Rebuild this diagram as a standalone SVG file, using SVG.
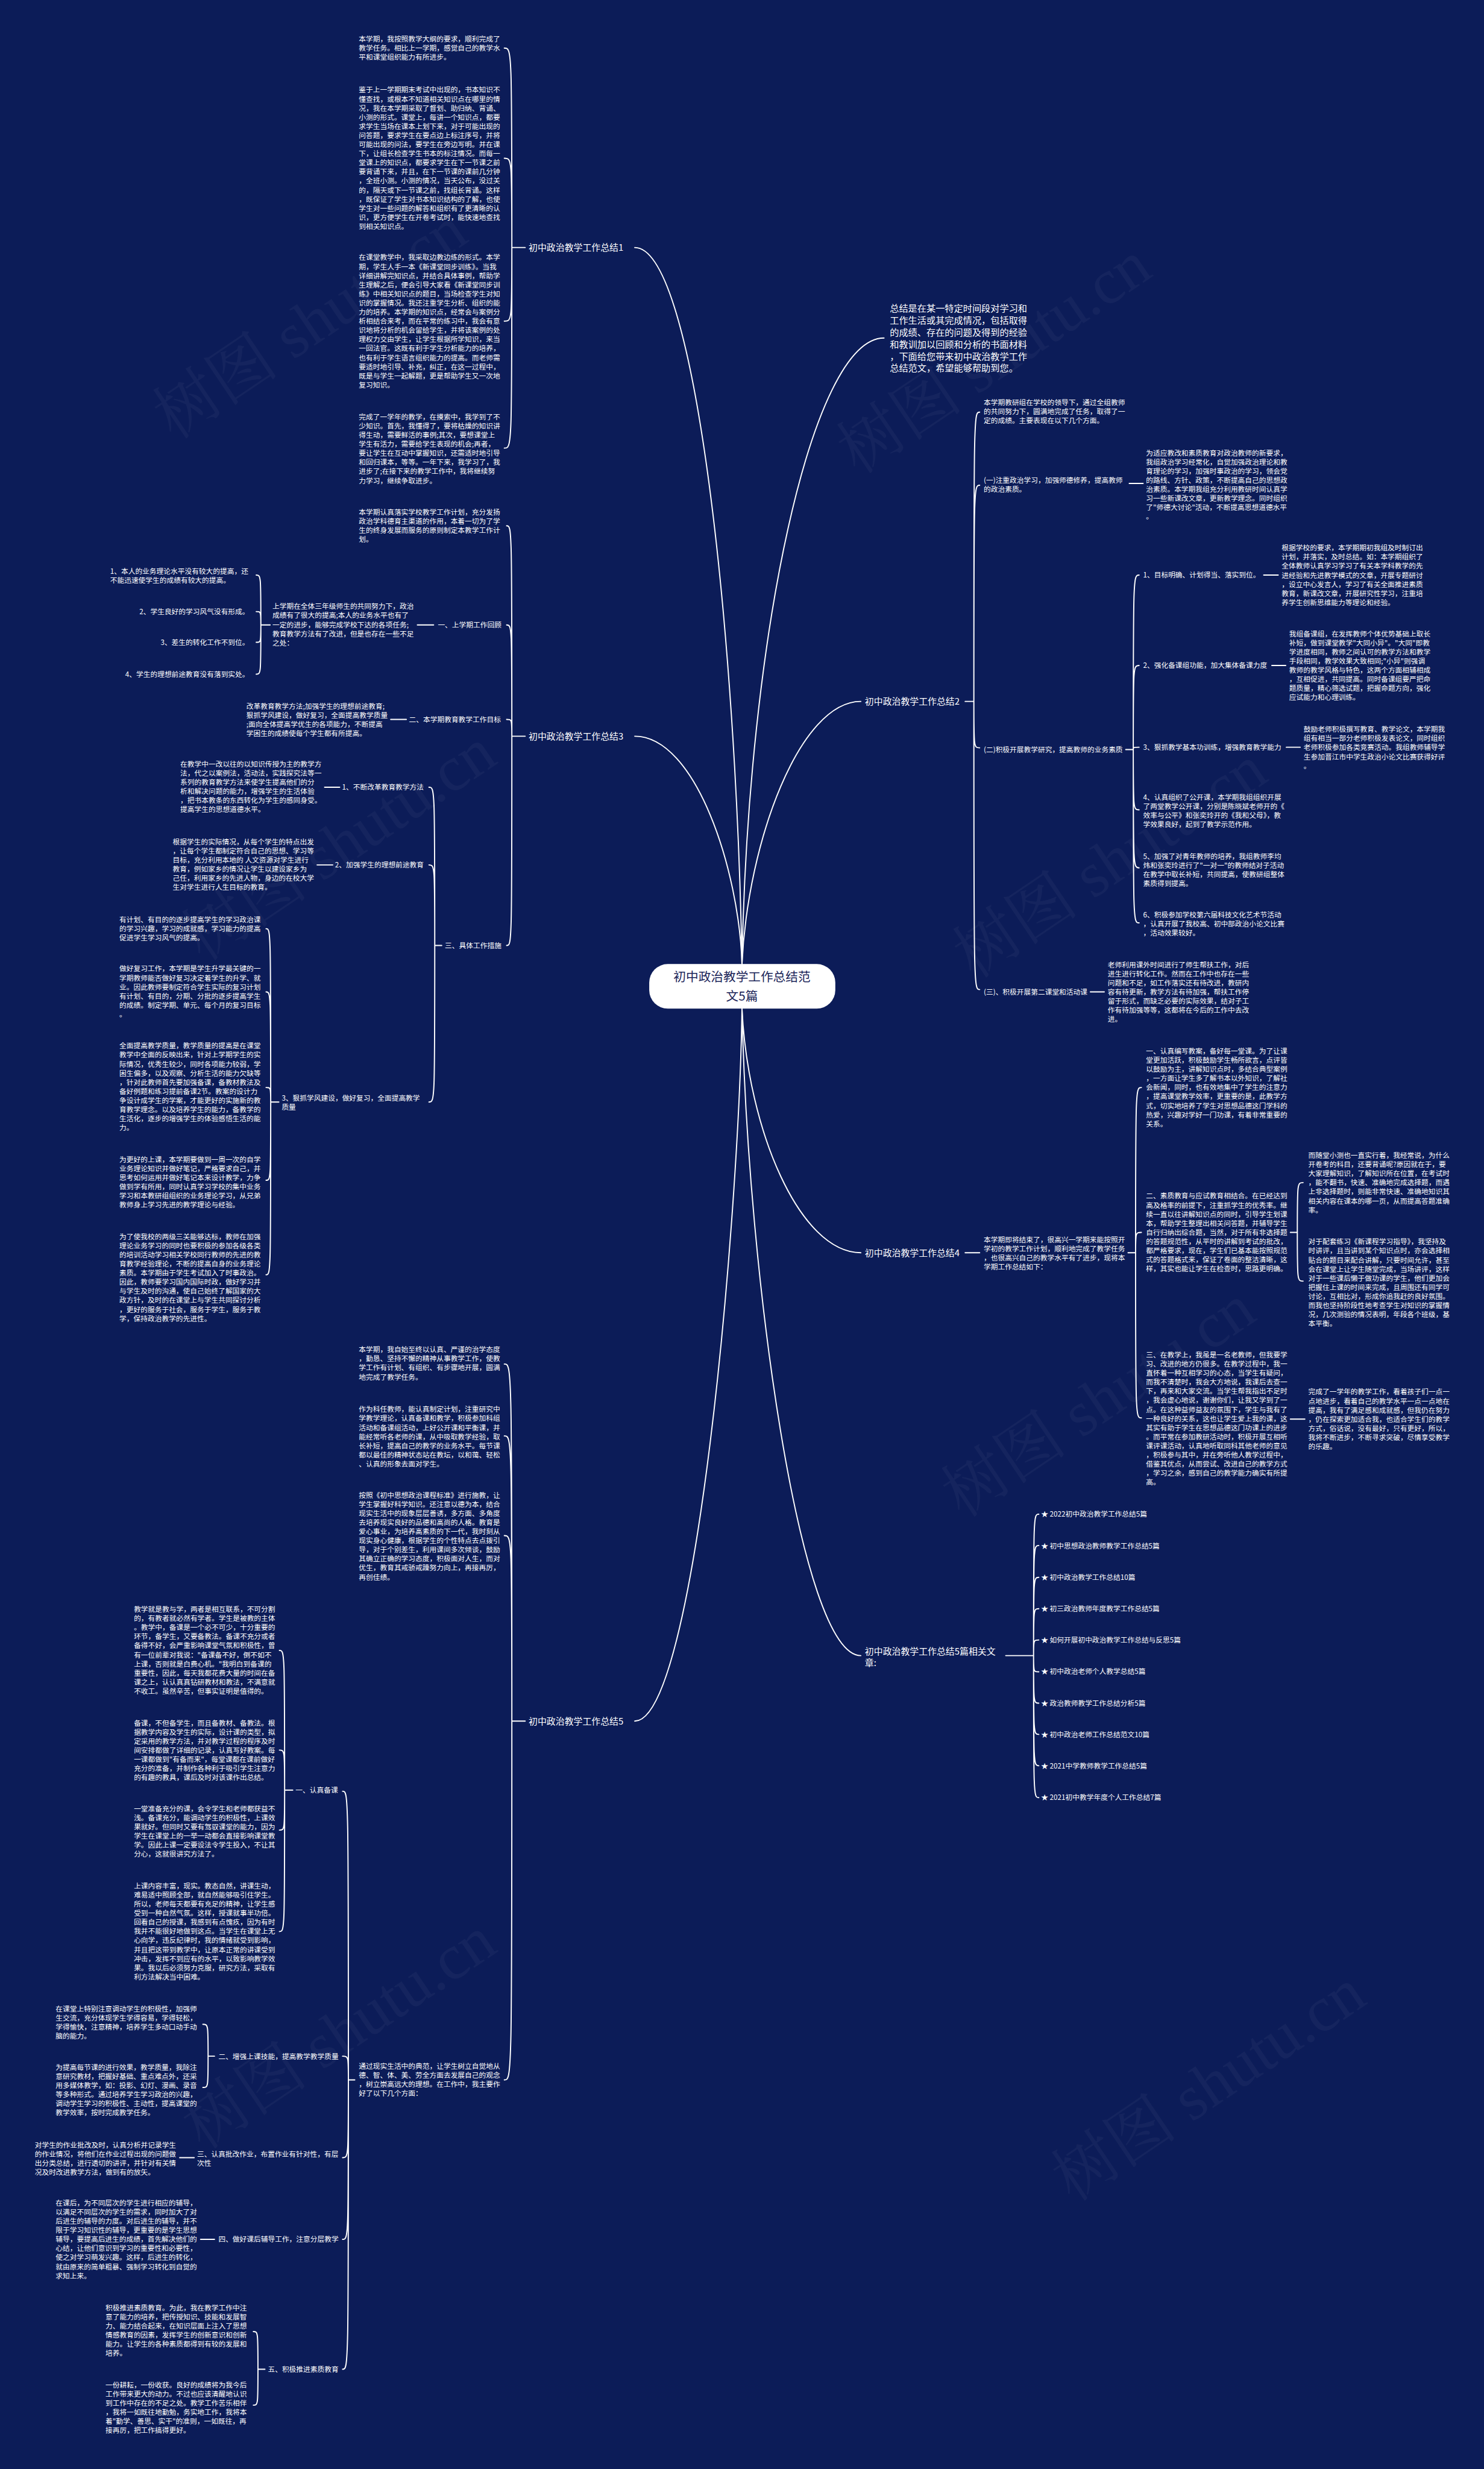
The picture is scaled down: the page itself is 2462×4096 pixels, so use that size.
<svg xmlns="http://www.w3.org/2000/svg" width="2462" height="4096" viewBox="0 0 2462 4096">
<style>
.t{font-family:"Noto Sans CJK SC","Noto Sans",sans-serif;font-size:12.2px;fill:#ffffff}
.h{font-size:15.5px}
.in{font-size:15.8px}
.e{text-anchor:end}
.ln{fill:none;stroke:#ffffff;stroke-width:2;stroke-linecap:round}
.ctr{font-family:"Noto Sans CJK SC","Noto Sans",sans-serif;font-size:21.5px;fill:#1b2559;text-anchor:middle}
.wm{font-family:"Liberation Serif","Noto Serif CJK SC","Noto Sans CJK SC",serif;font-size:110px;fill:#ffffff;fill-opacity:0.04}
</style>
<rect x="0" y="0" width="2462" height="4096" fill="#0c1c58"/>
<g transform="scale(0.9617)">
<g id="watermark">
<text class="wm" transform="translate(300,760) rotate(-34)">树图 shutu.cn</text>
<text class="wm" transform="translate(350,1660) rotate(-34)">树图 shutu.cn</text>
<text class="wm" transform="translate(350,3710) rotate(-34)">树图 shutu.cn</text>
<text class="wm" transform="translate(1480,820) rotate(-34)">树图 shutu.cn</text>
<text class="wm" transform="translate(1680,1690) rotate(-34)">树图 shutu.cn</text>
<text class="wm" transform="translate(1660,2620) rotate(-34)">树图 shutu.cn</text>
<text class="wm" transform="translate(1850,3800) rotate(-34)">树图 shutu.cn</text>
</g>
<g id="connectors" class="ln">
<path d="M1095,427 C1200,427 1270,1100 1280,1663"/>
<path d="M1095,1270 C1200,1270 1275,1500 1280,1663"/>
<path d="M1095,2969 C1200,2969 1275,2100 1280,1740"/>
<path d="M1525,583 C1400,583 1290,1100 1280,1663"/>
<path d="M1485,1210 C1380,1210 1290,1450 1280,1663"/>
<path d="M1485,2161 C1380,2161 1290,1950 1280,1740"/>
<path d="M1485,2856 C1380,2856 1290,2200 1280,1740"/>
<path d="M906,427 H883 M883,427 C883,83 883,83 870,83 M883,427 C883,273 883,273 870,273 M883,427 C883,554 883,554 870,554 M883,427 C883,773 883,773 870,773"/>
<path d="M906,1270 H883 M883,1270 C883,907 883,907 874,907 M883,1270 C883,1078 883,1078 874,1078 M883,1270 C883,1241 883,1241 874,1241 M883,1270 C883,1631 883,1631 874,1631"/>
<path d="M748,1078 H720"/>
<path d="M466,1078 H450 M450,1078 C450,992 450,992 442,992 M450,1078 C450,1055 450,1055 442,1055 M450,1078 C450,1108 450,1108 442,1108 M450,1078 C450,1163 450,1163 442,1163"/>
<path d="M701,1241 H674"/>
<path d="M762,1631 H750 M750,1631 C750,1358 750,1358 740,1358 M750,1631 C750,1492 750,1492 740,1492 M750,1631 C750,1901 750,1901 740,1901"/>
<path d="M586,1358 H560"/>
<path d="M574,1492 H547"/>
<path d="M481,1901 H467 M467,1901 C467,1602 467,1602 459,1602 M467,1901 C467,1711 467,1711 459,1711 M467,1901 C467,1876 467,1876 459,1876 M467,1901 C467,2036 467,2036 459,2036 M467,1901 C467,2199 467,2199 459,2199"/>
<path d="M906,2969 H883 M883,2969 C883,2353 883,2353 870,2353 M883,2969 C883,2477 883,2477 870,2477 M883,2969 C883,2649 883,2649 870,2649 M883,2969 C883,3588 883,3588 870,3588"/>
<path d="M612,3588 H601 M601,3588 C601,3090 601,3090 591,3090 M601,3588 C601,3547 601,3547 591,3547 M601,3588 C601,3722 601,3722 591,3722 M601,3588 C601,3863 601,3863 591,3863 M601,3588 C601,4087 601,4087 591,4087"/>
<path d="M505,3088 H491 M491,3088 C491,2847 491,2847 482,2847 M491,3088 C491,3019 491,3019 482,3019 M491,3088 C491,3157 491,3157 482,3157 M491,3088 C491,3332 491,3332 482,3332"/>
<path d="M370,3547 H359 M359,3547 C359,3492 359,3492 350,3492 M359,3547 C359,3601 359,3601 350,3601"/>
<path d="M335,3722 H310"/>
<path d="M370,3863 H346"/>
<path d="M457,4087 H445 M445,4087 C445,4022 445,4022 437,4022 M445,4087 C445,4149 445,4149 437,4149"/>
<path d="M1665,1210 H1680 M1680,1210 C1680,711 1680,711 1690,711 M1680,1210 C1680,837 1680,837 1690,837 M1680,1210 C1680,1290 1680,1290 1690,1290 M1680,1210 C1680,1707 1680,1707 1690,1707"/>
<path d="M1948,834 H1972"/>
<path d="M1942,1293 H1955 M1955,1293 C1955,992 1955,992 1965,992 M1955,1293 C1955,1148 1955,1148 1965,1148 M1955,1293 C1955,1289 1955,1289 1965,1289 M1955,1293 C1955,1397 1955,1397 1965,1397 M1955,1293 C1955,1497 1955,1497 1965,1497 M1955,1293 C1955,1592 1955,1592 1965,1592"/>
<path d="M2180,992 H2205 M2194,1148 H2218 M2219,1289 H2243"/>
<path d="M1881,1711 H1905"/>
<path d="M1665,2161 H1690"/>
<path d="M1946,2161 H1959 M1959,2161 C1959,1876 1959,1876 1969,1876 M1959,2161 C1959,2126 1959,2126 1969,2126 M1959,2161 C1959,2446 1959,2446 1969,2446"/>
<path d="M2226,2126 H2238 M2238,2126 C2238,2040 2238,2040 2248,2040 M2238,2126 C2238,2210 2238,2210 2248,2210"/>
<path d="M2226,2448 H2251"/>
<path d="M1735,2856 H1783 M1783,2856 C1783,2612 1783,2612 1792,2612 M1783,2856 C1783,2666 1783,2666 1792,2666 M1783,2856 C1783,2721 1783,2721 1792,2721 M1783,2856 C1783,2775 1783,2775 1792,2775 M1783,2856 C1783,2829 1783,2829 1792,2829 M1783,2856 C1783,2884 1783,2884 1792,2884 M1783,2856 C1783,2938 1783,2938 1792,2938 M1783,2856 C1783,2992 1783,2992 1792,2992 M1783,2856 C1783,3046 1783,3046 1792,3046 M1783,2856 C1783,3101 1783,3101 1792,3101"/>
</g>

<g id="center">
<rect x="1120" y="1663" width="321" height="77" rx="32" fill="#ffffff"/>
<text class="ctr" x="1280" y="1693">初中政治教学工作总结范</text>
<text class="ctr" x="1280" y="1726">文5篇</text>
</g>

<g id="intro"><text class="t in" x="1535" y="538"><tspan x="1535">总结是在某一特定时间段对学习和</tspan><tspan x="1535" dy="20.6">工作生活或其完成情况，包括取得</tspan><tspan x="1535" dy="20.6">的成绩、存在的问题及得到的经验</tspan><tspan x="1535" dy="20.6">和教训加以回顾和分析的书面材料</tspan><tspan x="1535" dy="20.6">，下面给您带来初中政治教学工作</tspan><tspan x="1535" dy="20.6">总结范文，希望能够帮助到您。</tspan></text></g>

<g id="s1"><text class="t h" x="912" y="432.9">初中政治教学工作总结1</text></g>
<g id="s1a"><text class="t" x="619" y="71.6"><tspan x="619">本学期，我按照教学大纲的要求，顺利完成了</tspan><tspan x="619" dy="15.7">教学任务。相比上一学期，感觉自己的教学水</tspan><tspan x="619" dy="15.7">平和课堂组织能力有所进步。</tspan></text></g>
<g id="s1b"><text class="t" x="619" y="159.6"><tspan x="619">鉴于上一学期期末考试中出现的，书本知识不</tspan><tspan x="619" dy="15.7">懂查找，或根本不知道相关知识点在哪里的情</tspan><tspan x="619" dy="15.7">况，我在本学期采取了督划、助归纳、背诵、</tspan><tspan x="619" dy="15.7">小测的形式。课堂上，每讲一个知识点，都要</tspan><tspan x="619" dy="15.7">求学生当场在课本上划下来，对于可能出现的</tspan><tspan x="619" dy="15.7">问答题，要求学生在要点边上标注序号，并将</tspan><tspan x="619" dy="15.7">可能出现的问法，要学生在旁边写明。并在课</tspan><tspan x="619" dy="15.7">下，让组长检查学生书本的标注情况。而每一</tspan><tspan x="619" dy="15.7">堂课上的知识点，都要求学生在下一节课之前</tspan><tspan x="619" dy="15.7">要背诵下来，并且，在下一节课的课前几分钟</tspan><tspan x="619" dy="15.7">，全班小测。小测的情况，当天公布，没过关</tspan><tspan x="619" dy="15.7">的，隔天或下一节课之前，找组长背诵。这样</tspan><tspan x="619" dy="15.7">，既保证了学生对书本知识结构的了解，也使</tspan><tspan x="619" dy="15.7">学生对一些问题的解答和组织有了更清晰的认</tspan><tspan x="619" dy="15.7">识，更方便学生在开卷考试时，能快速地查找</tspan><tspan x="619" dy="15.7">到相关知识点。</tspan></text></g>
<g id="s1c"><text class="t" x="619" y="448.6"><tspan x="619">在课堂教学中，我采取边教边练的形式。本学</tspan><tspan x="619" dy="15.7">期，学生人手一本《新课堂同步训练》。当我</tspan><tspan x="619" dy="15.7">详细讲解完知识点，并结合具体事例，帮助学</tspan><tspan x="619" dy="15.7">生理解之后，便会引导大家看《新课堂同步训</tspan><tspan x="619" dy="15.7">练》中相关知识点的题目，当场检查学生对知</tspan><tspan x="619" dy="15.7">识的掌握情况。我还注重学生分析、组织的能</tspan><tspan x="619" dy="15.7">力的培养。本学期的知识点，经常会与案例分</tspan><tspan x="619" dy="15.7">析相结合来考，而在平常的练习中，我会有意</tspan><tspan x="619" dy="15.7">识地将分析的机会留给学生，并将该案例的处</tspan><tspan x="619" dy="15.7">理权力交由学生，让学生根据所学知识，来当</tspan><tspan x="619" dy="15.7">一回法官。这既有利于学生分析能力的培养，</tspan><tspan x="619" dy="15.7">也有利于学生语言组织能力的提高。而老师需</tspan><tspan x="619" dy="15.7">要适时地引导、补充，纠正，在这一过程中，</tspan><tspan x="619" dy="15.7">既是与学生一起解题，更是帮助学生又一次地</tspan><tspan x="619" dy="15.7">复习知识。</tspan></text></g>
<g id="s1d"><text class="t" x="619" y="723.6"><tspan x="619">完成了一学年的教学，在摸索中，我学到了不</tspan><tspan x="619" dy="15.7">少知识。首先，我懂得了，要将枯燥的知识讲</tspan><tspan x="619" dy="15.7">得生动，需要鲜活的事例;其次，要想课堂上</tspan><tspan x="619" dy="15.7">学生有活力，需要给学生表现的机会;再者，</tspan><tspan x="619" dy="15.7">要让学生在互动中掌握知识，还需适时地引导</tspan><tspan x="619" dy="15.7">和回归课本，等等。一年下来，我学习了，我</tspan><tspan x="619" dy="15.7">进步了;在接下来的教学工作中，我将继续努</tspan><tspan x="619" dy="15.7">力学习，继续争取进步。</tspan></text></g>

<g id="s3"><text class="t h" x="912" y="1275.9">初中政治教学工作总结3</text></g>
<g id="s3e"><text class="t" x="619" y="887.6"><tspan x="619">本学期认真落实学校教学工作计划，充分发扬</tspan><tspan x="619" dy="15.7">政治学科德育主渠道的作用，本着一切为了学</tspan><tspan x="619" dy="15.7">生的终身发展而服务的原则制定本教学工作计</tspan><tspan x="619" dy="15.7">划。</tspan></text></g>
<g id="s3-1"><text class="t e" x="865" y="1082.6">一、上学期工作回顾</text></g>
<g id="s3f"><text class="t" x="470" y="1050.6"><tspan x="470">上学期在全体三年级师生的共同努力下，政治</tspan><tspan x="470" dy="15.7">成绩有了很大的提高;本人的业务水平也有了</tspan><tspan x="470" dy="15.7">一定的进步，能够完成学校下达的各项任务;</tspan><tspan x="470" dy="15.7">教育教学方法有了改进，但是也存在一些不足</tspan><tspan x="470" dy="15.7">之处：</tspan></text></g>
<g id="s3g1"><text class="t" x="190" y="989.6"><tspan x="190">1、本人的业务理论水平没有较大的提高，还</tspan><tspan x="190" dy="15.7">不能迅速使学生的成绩有较大的提高。</tspan></text></g>
<g id="s3g2"><text class="t e" x="430" y="1059.6">2、学生良好的学习风气没有形成。</text></g>
<g id="s3g3"><text class="t e" x="430" y="1112.6">3、差生的转化工作不到位。</text></g>
<g id="s3g4"><text class="t e" x="430" y="1167.6">4、学生的理想前途教育没有落到实处。</text></g>
<g id="s3-2"><text class="t e" x="864" y="1245.6">二、本学期教育教学工作目标</text></g>
<g id="s3h"><text class="t" x="425" y="1222.6"><tspan x="425">改革教育教学方法;加强学生的理想前途教育;</tspan><tspan x="425" dy="15.7">狠抓学风建设，做好复习，全面提高教学质量</tspan><tspan x="425" dy="15.7">;面向全体提高学优生的各项能力，不断提高</tspan><tspan x="425" dy="15.7">学困生的成绩使每个学生都有所提高。</tspan></text></g>
<g id="s3-3"><text class="t e" x="865" y="1635.6">三、具体工作措施</text></g>
<g id="s3-3-1"><text class="t e" x="731" y="1362.6">1、不断改革教育教学方法</text></g>
<g id="s3i"><text class="t" x="311" y="1322.6"><tspan x="311">在教学中一改以往的以知识传授为主的教学方</tspan><tspan x="311" dy="15.7">法，代之以案例法，活动法，实践探究法等一</tspan><tspan x="311" dy="15.7">系列的教育教学方法来使学生提高他们的分</tspan><tspan x="311" dy="15.7">析和解决问题的能力，增强学生的生活体验</tspan><tspan x="311" dy="15.7">，把书本教条的东西转化为学生的感同身受。</tspan><tspan x="311" dy="15.7">提高学生的思想道德水平。</tspan></text></g>
<g id="s3-3-2"><text class="t e" x="731" y="1496.6">2、加强学生的理想前途教育</text></g>
<g id="s3j"><text class="t" x="298" y="1456.6"><tspan x="298">根据学生的实际情况，从每个学生的特点出发</tspan><tspan x="298" dy="15.7">，让每个学生都制定符合自己的思想、学习等</tspan><tspan x="298" dy="15.7">目标，充分利用本地的 人文资源对学生进行</tspan><tspan x="298" dy="15.7">教育，例如家乡的情况让学生以建设家乡为</tspan><tspan x="298" dy="15.7">己任，利用家乡的先进人物，身边的在校大学</tspan><tspan x="298" dy="15.7">生对学生进行人生目标的教育。</tspan></text></g>
<g id="s3-3-3"><text class="t" x="486" y="1898.6"><tspan x="486">3、狠抓学风建设，做好复习，全面提高教学</tspan><tspan x="486" dy="15.7">质量</tspan></text></g>
<g id="s3k"><text class="t" x="206" y="1590.6"><tspan x="206">有计划、有目的的逐步提高学生的学习政治课</tspan><tspan x="206" dy="15.7">的学习兴趣，学习的成就感，学习能力的提高</tspan><tspan x="206" dy="15.7">促进学生学习风气的提高。</tspan></text></g>
<g id="s3l"><text class="t" x="206" y="1675.6"><tspan x="206">做好复习工作，本学期是学生升学最关键的一</tspan><tspan x="206" dy="15.7">学期教师能否做好复习决定着学生的升学、就</tspan><tspan x="206" dy="15.7">业。因此教师要制定符合学生实际的复习计划</tspan><tspan x="206" dy="15.7">有计划、有目的，分期、分批的逐步提高学生</tspan><tspan x="206" dy="15.7">的成绩。制定学期、单元、每个月的复习目标</tspan><tspan x="206" dy="15.7">。</tspan></text></g>
<g id="s3m"><text class="t" x="206" y="1808.6"><tspan x="206">全面提高教学质量，教学质量的提高是在课堂</tspan><tspan x="206" dy="15.7">教学中全面的反映出来，针对上学期学生的实</tspan><tspan x="206" dy="15.7">际情况，优秀生较少，同时各项能力较弱，学</tspan><tspan x="206" dy="15.7">困生偏多，以及观察、分析生活的能力欠缺等</tspan><tspan x="206" dy="15.7">，针对此教师首先要加强备课，备教材教法及</tspan><tspan x="206" dy="15.7">备好例题和练习提前备课2节。教案的设计力</tspan><tspan x="206" dy="15.7">争设计成学生的学案，才能更好的实施新的教</tspan><tspan x="206" dy="15.7">育教学理念。以及培养学生的能力，备教学的</tspan><tspan x="206" dy="15.7">生活化，逐步的增强学生的体验感悟生活的能</tspan><tspan x="206" dy="15.7">力。</tspan></text></g>
<g id="s3n"><text class="t" x="206" y="2004.6"><tspan x="206">为更好的上课，本学期要做到一周一次的自学</tspan><tspan x="206" dy="15.7">业务理论知识并做好笔记，严格要求自己，并</tspan><tspan x="206" dy="15.7">思考如何运用并做好笔记本来设计教学，力争</tspan><tspan x="206" dy="15.7">做到学有所用，同时认真学习学校的集中业务</tspan><tspan x="206" dy="15.7">学习和本教研组组织的业务理论学习，从兄弟</tspan><tspan x="206" dy="15.7">教师身上学习先进的教学理论与经验。</tspan></text></g>
<g id="s3o"><text class="t" x="206" y="2137.6"><tspan x="206">为了使我校的两级三关能够达标，教师在加强</tspan><tspan x="206" dy="15.7">理论业务学习的同时也要积极的参加各级各类</tspan><tspan x="206" dy="15.7">的培训活动学习相关学校同行教师的先进的教</tspan><tspan x="206" dy="15.7">育教学经验理论，不断的提高自身的业务理论</tspan><tspan x="206" dy="15.7">素质。本学期由于学生考试加入了时事政治。</tspan><tspan x="206" dy="15.7">因此，教师要学习国内国际时政，做好学习并</tspan><tspan x="206" dy="15.7">与学生及时的沟通，使自己始终了解国家的大</tspan><tspan x="206" dy="15.7">政方针，及时的在课堂上与学生共同探讨分析</tspan><tspan x="206" dy="15.7">，更好的服务于社会，服务于学生，服务于教</tspan><tspan x="206" dy="15.7">学，保持政治教学的先进性。</tspan></text></g>

<g id="s5"><text class="t h" x="912" y="2974.9">初中政治教学工作总结5</text></g>
<g id="s5p"><text class="t" x="619" y="2332.6"><tspan x="619">本学期，我自始至终以认真、严谨的治学态度</tspan><tspan x="619" dy="15.7">，勤恳、坚持不懈的精神从事教学工作，使教</tspan><tspan x="619" dy="15.7">学工作有计划、有组织、有步骤地开展，圆满</tspan><tspan x="619" dy="15.7">地完成了教学任务。</tspan></text></g>
<g id="s5q"><text class="t" x="619" y="2435.6"><tspan x="619">作为科任教师，能认真制定计划，注重研究中</tspan><tspan x="619" dy="15.7">学教学理论，认真备课和教学，积极参加科组</tspan><tspan x="619" dy="15.7">活动和备课组活动，上好公开课和平衡课，并</tspan><tspan x="619" dy="15.7">能经常听各老师的课，从中吸取教学经验，取</tspan><tspan x="619" dy="15.7">长补短，提高自己的教学的业务水平。每节课</tspan><tspan x="619" dy="15.7">都以最佳的精神状态站在教坛，以和蔼、轻松</tspan><tspan x="619" dy="15.7">、认真的形象去面对学生。</tspan></text></g>
<g id="s5r"><text class="t" x="619" y="2583.6"><tspan x="619">按照《初中思想政治课程标准》进行施教，让</tspan><tspan x="619" dy="15.7">学生掌握好科学知识。还注意以德为本，结合</tspan><tspan x="619" dy="15.7">现实生活中的现象层层善诱，多方面、多角度</tspan><tspan x="619" dy="15.7">去培养现实良好的品德和高尚的人格。教育是</tspan><tspan x="619" dy="15.7">爱心事业，为培养高素质的下一代，我时刻从</tspan><tspan x="619" dy="15.7">现实身心健康，根据学生的个性特点去点拨引</tspan><tspan x="619" dy="15.7">导，对于个别差生，利用课间多次倾谈，鼓励</tspan><tspan x="619" dy="15.7">其确立正确的学习态度，积极面对人生，而对</tspan><tspan x="619" dy="15.7">优生，教育其戒骄戒躁努力向上，再接再厉，</tspan><tspan x="619" dy="15.7">再创佳绩。</tspan></text></g>
<g id="s5t"><text class="t" x="619" y="3568.6"><tspan x="619">通过现实生活中的典范，让学生树立自觉地从</tspan><tspan x="619" dy="15.7">德、智、体、美、劳全方面去发展自己的观念</tspan><tspan x="619" dy="15.7">，树立崇高远大的理想。在工作中，我主要作</tspan><tspan x="619" dy="15.7">好了以下几个方面：</tspan></text></g>
<g id="s5-1"><text class="t e" x="583" y="3092.6">一、认真备课</text></g>
<g id="s5s"><text class="t" x="231" y="2780.6"><tspan x="231">教学就是教与学，两者是相互联系，不可分割</tspan><tspan x="231" dy="15.7">的，有教者就必然有学者。学生是被教的主体</tspan><tspan x="231" dy="15.7">。教学中，备课是一个必不可少，十分重要的</tspan><tspan x="231" dy="15.7">环节，备学生，又要备教法。备课不充分或者</tspan><tspan x="231" dy="15.7">备得不好，会严重影响课堂气氛和积极性，曾</tspan><tspan x="231" dy="15.7">有一位前辈对我说："备课备不好，倒不如不</tspan><tspan x="231" dy="15.7">上课，否则就是白费心机。"我明白到备课的</tspan><tspan x="231" dy="15.7">重要性，因此，每天我都花费大量的时间在备</tspan><tspan x="231" dy="15.7">课之上，认认真真钻研教材和教法，不满意就</tspan><tspan x="231" dy="15.7">不收工。虽然辛苦，但事实证明是值得的。</tspan></text></g>
<g id="s5u1"><text class="t" x="231" y="2976.6"><tspan x="231">备课，不但备学生，而且备教材、备教法。根</tspan><tspan x="231" dy="15.7">据教学内容及学生的实际，设计课的类型，拟</tspan><tspan x="231" dy="15.7">定采用的教学方法，并对教学过程的程序及时</tspan><tspan x="231" dy="15.7">间安排都做了详细的记录，认真写好教案。每</tspan><tspan x="231" dy="15.7">一课都做到"有备而来"，每堂课都在课前做好</tspan><tspan x="231" dy="15.7">充分的准备，并制作各种利于吸引学生注意力</tspan><tspan x="231" dy="15.7">的有趣的教具，课后及时对该课作出总结。</tspan></text></g>
<g id="s5u"><text class="t" x="231" y="3124.6"><tspan x="231">一堂准备充分的课，会令学生和老师都获益不</tspan><tspan x="231" dy="15.7">浅。备课充分，能调动学生的积极性，上课效</tspan><tspan x="231" dy="15.7">果就好。但同时又要有驾驭课堂的能力，因为</tspan><tspan x="231" dy="15.7">学生在课堂上的一举一动都会直接影响课堂教</tspan><tspan x="231" dy="15.7">学。因此上课一定要设法令学生投入，不让其</tspan><tspan x="231" dy="15.7">分心，这就很讲究方法了。</tspan></text></g>
<g id="s5v"><text class="t" x="231" y="3257.6"><tspan x="231">上课内容丰富，现实。教态自然，讲课生动，</tspan><tspan x="231" dy="15.7">难易适中照顾全部，就自然能够吸引住学生。</tspan><tspan x="231" dy="15.7">所以，老师每天都要有充足的精神，让学生感</tspan><tspan x="231" dy="15.7">受到一种自然气氛。这样，授课就事半功倍。</tspan><tspan x="231" dy="15.7">回看自己的授课，我感到有点愧疚，因为有时</tspan><tspan x="231" dy="15.7">我并不能很好地做到这点。当学生在课堂上无</tspan><tspan x="231" dy="15.7">心向学，违反纪律时，我的情绪就受到影响，</tspan><tspan x="231" dy="15.7">并且把这带到教学中，让原本正常的讲课受到</tspan><tspan x="231" dy="15.7">冲击，发挥不到应有的水平，以致影响教学效</tspan><tspan x="231" dy="15.7">果。我以后必须努力克服，研究方法，采取有</tspan><tspan x="231" dy="15.7">利方法解决当中困难。</tspan></text></g>
<g id="s5-2"><text class="t e" x="584" y="3551.6">二、增强上课技能，提高教学教学质量</text></g>
<g id="s5w"><text class="t" x="96" y="3469.6"><tspan x="96">在课堂上特别注意调动学生的积极性，加强师</tspan><tspan x="96" dy="15.7">生交流，充分体现学生学得容易，学得轻松，</tspan><tspan x="96" dy="15.7">学得愉快，注意精神，培养学生多动口动手动</tspan><tspan x="96" dy="15.7">脑的能力。</tspan></text></g>
<g id="s5x"><text class="t" x="96" y="3570.6"><tspan x="96">为提高每节课的进行效果，教学质量，我除注</tspan><tspan x="96" dy="15.7">意研究教材，把握好基础、重点难点外，还采</tspan><tspan x="96" dy="15.7">用多媒体教学，如：投影、幻灯、漫画、录音</tspan><tspan x="96" dy="15.7">等多种形式。通过培养学生学习政治的兴趣，</tspan><tspan x="96" dy="15.7">调动学生学习的积极性、主动性，提高课堂的</tspan><tspan x="96" dy="15.7">教学效率，按时完成教学任务。</tspan></text></g>
<g id="s5-3"><text class="t" x="340" y="3720.6"><tspan x="340">三、认真批改作业，布置作业有针对性，有层</tspan><tspan x="340" dy="15.7">次性</tspan></text></g>
<g id="s5y"><text class="t" x="60" y="3704.6"><tspan x="60">对学生的作业批改及时，认真分析并记录学生</tspan><tspan x="60" dy="15.7">的作业情况，将他们在作业过程出现的问题做</tspan><tspan x="60" dy="15.7">出分类总结，进行透切的讲评，并针对有关情</tspan><tspan x="60" dy="15.7">况及时改进教学方法，做到有的放矢。</tspan></text></g>
<g id="s5-4"><text class="t e" x="584" y="3867.6">四、做好课后辅导工作，注意分层教学</text></g>
<g id="s5z"><text class="t" x="96" y="3804.6"><tspan x="96">在课后，为不同层次的学生进行相应的辅导，</tspan><tspan x="96" dy="15.7">以满足不同层次的学生的需求，同时加大了对</tspan><tspan x="96" dy="15.7">后进生的辅导的力度。对后进生的辅导，并不</tspan><tspan x="96" dy="15.7">限于学习知识性的辅导，更重要的是学生思想</tspan><tspan x="96" dy="15.7">辅导，要提高后进生的成绩，首先解决他们的</tspan><tspan x="96" dy="15.7">心结，让他们意识到学习的重要性和必要性，</tspan><tspan x="96" dy="15.7">使之对学习萌发兴趣。这样，后进生的转化，</tspan><tspan x="96" dy="15.7">就由原来的简单粗暴、强制学习转化到自觉的</tspan><tspan x="96" dy="15.7">求知上来。</tspan></text></g>
<g id="s5-5"><text class="t e" x="584" y="4091.6">五、积极推进素质教育</text></g>
<g id="s5aa"><text class="t" x="182" y="3985.6"><tspan x="182">积极推进素质教育。为此，我在教学工作中注</tspan><tspan x="182" dy="15.7">意了能力的培养，把传授知识、技能和发展智</tspan><tspan x="182" dy="15.7">力、能力结合起来，在知识层面上注入了思想</tspan><tspan x="182" dy="15.7">情感教育的因素，发挥学生的创新意识和创新</tspan><tspan x="182" dy="15.7">能力。让学生的各种素质都得到有较的发展和</tspan><tspan x="182" dy="15.7">培养。</tspan></text></g>
<g id="s5ab"><text class="t" x="182" y="4118.6"><tspan x="182">一份耕耘，一份收获。良好的成绩将为我今后</tspan><tspan x="182" dy="15.7">工作带来更大的动力。不过也应该清醒地认识</tspan><tspan x="182" dy="15.7">到工作中存在的不足之处。教学工作苦乐相伴</tspan><tspan x="182" dy="15.7">，我将一如既往地勤勉，务实地工作，我将本</tspan><tspan x="182" dy="15.7">着"勤学、善思、实干"的准则，一如既往，再</tspan><tspan x="182" dy="15.7">接再厉，把工作搞得更好。</tspan></text></g>

<g id="s2"><text class="t h" x="1492" y="1215.9">初中政治教学工作总结2</text></g>
<g id="s2a"><text class="t" x="1697" y="698.6"><tspan x="1697">本学期教研组在学校的领导下，通过全组教师</tspan><tspan x="1697" dy="15.7">的共同努力下，圆满地完成了任务，取得了一</tspan><tspan x="1697" dy="15.7">定的成绩。主要表现在以下几个方面。</tspan></text></g>
<g id="s2-1"><text class="t" x="1697" y="832.6"><tspan x="1697">(一)注重政治学习，加强师德修养，提高教师</tspan><tspan x="1697" dy="15.7">的政治素质。</tspan></text></g>
<g id="s2-1a"><text class="t" x="1977" y="785.6"><tspan x="1977">为适应教改和素质教育对政治教师的新要求，</tspan><tspan x="1977" dy="15.7">我组政治学习经常化，自觉加强政治理论和教</tspan><tspan x="1977" dy="15.7">育理论的学习，加强时事政治的学习，领会党</tspan><tspan x="1977" dy="15.7">的路线、方针、政策，不断提高自己的思想政</tspan><tspan x="1977" dy="15.7">治素质。本学期我组充分利用教研时间认真学</tspan><tspan x="1977" dy="15.7">习一些新课改文章，更新教学理念。同时组织</tspan><tspan x="1977" dy="15.7">了"师德大讨论"活动，不断提高思想道德水平</tspan><tspan x="1977" dy="15.7">。</tspan></text></g>
<g id="s2-2"><text class="t" x="1697" y="1297.6">(二)积极开展教学研究，提高教师的业务素质</text></g>
<g id="s2-2-1"><text class="t" x="1972" y="996.6">1、目标明确、计划得当、落实到位。</text></g>
<g id="s2-2-1a"><text class="t" x="2211" y="949.6"><tspan x="2211">根据学校的要求，本学期期初我组及时制订出</tspan><tspan x="2211" dy="15.7">计划，并落实，及时总结。如：本学期组织了</tspan><tspan x="2211" dy="15.7">全体教师认真学习学习了有关本学科教学的先</tspan><tspan x="2211" dy="15.7">进经验和先进教学模式的文章，开展专题研讨</tspan><tspan x="2211" dy="15.7">，设立中心发言人，学习了有关全面推进素质</tspan><tspan x="2211" dy="15.7">教育，新课改文章，开展研究性学习，注重培</tspan><tspan x="2211" dy="15.7">养学生创新思维能力等理论和经验。</tspan></text></g>
<g id="s2-2-2"><text class="t" x="1972" y="1152.6">2、强化备课组功能，加大集体备课力度</text></g>
<g id="s2-2-2a"><text class="t" x="2224" y="1097.6"><tspan x="2224">我组备课组，在发挥教师个体优势基础上取长</tspan><tspan x="2224" dy="15.7">补短，做到课堂教学"大同小异"。"大同"即教</tspan><tspan x="2224" dy="15.7">学进度相同，教师之间认可的教学方法和教学</tspan><tspan x="2224" dy="15.7">手段相同，教学效果大致相同;"小异"则强调</tspan><tspan x="2224" dy="15.7">教师的教学风格与特色，这两个方面相辅相成</tspan><tspan x="2224" dy="15.7">，互相促进，共同提高。同时备课组要严把命</tspan><tspan x="2224" dy="15.7">题质量，精心筛选试题，把握命题方向，强化</tspan><tspan x="2224" dy="15.7">应试能力和心理训练。</tspan></text></g>
<g id="s2-2-3"><text class="t" x="1972" y="1293.6">3、狠抓教学基本功训练，增强教育教学能力</text></g>
<g id="s2-2-3a"><text class="t" x="2249" y="1262.6"><tspan x="2249">鼓励老师积极撰写教育、教学论文，本学期我</tspan><tspan x="2249" dy="15.7">组有相当一部分老师积极发表论文，同时组织</tspan><tspan x="2249" dy="15.7">老师积极参加各类竞赛活动。我组教师辅导学</tspan><tspan x="2249" dy="15.7">生参加晋江市中学生政治小论文比赛获得好评</tspan><tspan x="2249" dy="15.7">。</tspan></text></g>
<g id="s2-2-4"><text class="t" x="1972" y="1379.6"><tspan x="1972">4、认真组织了公开课，本学期我组组织开展</tspan><tspan x="1972" dy="15.7">了两堂教学公开课，分别是陈晓斌老师开的《</tspan><tspan x="1972" dy="15.7">效率与公平》和张奕玲开的《我和父母》，教</tspan><tspan x="1972" dy="15.7">学效果良好，起到了教学示范作用。</tspan></text></g>
<g id="s2-2-5"><text class="t" x="1972" y="1481.6"><tspan x="1972">5、加强了对青年教师的培养，我组教师李均</tspan><tspan x="1972" dy="15.7">炜和张奕玲进行了"一对一"的教师结对子活动</tspan><tspan x="1972" dy="15.7">在教学中取长补短，共同提高，使教研组整体</tspan><tspan x="1972" dy="15.7">素质得到提高。</tspan></text></g>
<g id="s2-2-6"><text class="t" x="1972" y="1582.6"><tspan x="1972">6、积极参加学校第六届科技文化艺术节活动</tspan><tspan x="1972" dy="15.7">，认真开展了我校高、初中部政治小论文比赛</tspan><tspan x="1972" dy="15.7">，活动效果较好。</tspan></text></g>
<g id="s2-3"><text class="t" x="1697" y="1715.6">(三)、积极开展第二课堂和活动课</text></g>
<g id="s2-3a"><text class="t" x="1911" y="1668.6"><tspan x="1911">老师利用课外时间进行了师生帮扶工作，对后</tspan><tspan x="1911" dy="15.7">进生进行转化工作。然而在工作中也存在一些</tspan><tspan x="1911" dy="15.7">问题和不足，如工作落实还有待改进，教研内</tspan><tspan x="1911" dy="15.7">容有待更新，教学方法有待加强，帮扶工作停</tspan><tspan x="1911" dy="15.7">留于形式，而缺乏必要的实际效果，结对子工</tspan><tspan x="1911" dy="15.7">作有待加强等等，这都将在今后的工作中去改</tspan><tspan x="1911" dy="15.7">进。</tspan></text></g>

<g id="s4"><text class="t h" x="1492" y="2166.9">初中政治教学工作总结4</text></g>
<g id="s4a"><text class="t" x="1697" y="2142.6"><tspan x="1697">本学期即将结束了，很高兴一学期来能按照开</tspan><tspan x="1697" dy="15.7">学初的教学工作计划，顺利地完成了教学任务</tspan><tspan x="1697" dy="15.7">，也很高兴自己的教学水平有了进步，现将本</tspan><tspan x="1697" dy="15.7">学期工作总结如下：</tspan></text></g>
<g id="s4-1"><text class="t" x="1977" y="1817.6"><tspan x="1977">一、认真编写教案，备好每一堂课。为了让课</tspan><tspan x="1977" dy="15.7">堂更加活跃，积极鼓励学生畅所欲言，点评皆</tspan><tspan x="1977" dy="15.7">以鼓励为主，讲解知识点时，多结合典型案例</tspan><tspan x="1977" dy="15.7">，一方面让学生多了解书本以外知识，了解社</tspan><tspan x="1977" dy="15.7">会新闻，同时，也有效地集中了学生的注意力</tspan><tspan x="1977" dy="15.7">，提高课堂教学效率，更重要的是，此教学方</tspan><tspan x="1977" dy="15.7">式，切实地培养了学生对思想品德这门学科的</tspan><tspan x="1977" dy="15.7">热爱，兴趣对学好一门功课，有着非常重要的</tspan><tspan x="1977" dy="15.7">关系。</tspan></text></g>
<g id="s4-2"><text class="t" x="1977" y="2067.6"><tspan x="1977">二、素质教育与应试教育相结合。在已经达到</tspan><tspan x="1977" dy="15.7">高及格率的前提下，注重抓学生的优秀率。继</tspan><tspan x="1977" dy="15.7">续一直以往讲解知识点的同时，引导学生划课</tspan><tspan x="1977" dy="15.7">本，帮助学生整理出相关问答题，并辅导学生</tspan><tspan x="1977" dy="15.7">自行归纳出综合题，当然，对于所有非选择题</tspan><tspan x="1977" dy="15.7">的答题规范性，从平时的讲解到考试的批改，</tspan><tspan x="1977" dy="15.7">都严格要求，现在，学生们已基本能按照规范</tspan><tspan x="1977" dy="15.7">式的答题格式来，保证了卷面的整洁清晰，这</tspan><tspan x="1977" dy="15.7">样，其实也能让学生在检查时，思路更明确。</tspan></text></g>
<g id="s4-2a"><text class="t" x="2257" y="1997.6"><tspan x="2257">而随堂小测也一直实行着，我经常说，为什么</tspan><tspan x="2257" dy="15.7">开卷考的科目，还要背诵呢?原因就在于，要</tspan><tspan x="2257" dy="15.7">大家理解知识，了解知识所在位置，在考试时</tspan><tspan x="2257" dy="15.7">，能不翻书，快速、准确地完成选择题，而遇</tspan><tspan x="2257" dy="15.7">上非选择题时，则能非常快速、准确地知识其</tspan><tspan x="2257" dy="15.7">相关内容在课本的哪一页，从而提高答题准确</tspan><tspan x="2257" dy="15.7">率。</tspan></text></g>
<g id="s4-2b"><text class="t" x="2257" y="2146.6"><tspan x="2257">对于配套练习《新课程学习指导》，我坚持及</tspan><tspan x="2257" dy="15.7">时讲评，且当讲到某个知识点时，亦会选择相</tspan><tspan x="2257" dy="15.7">贴合的题目来配合讲解，只要时间允许，甚至</tspan><tspan x="2257" dy="15.7">会在课堂上让学生随堂完成，当场讲评，这样</tspan><tspan x="2257" dy="15.7">对于一些课后懒于做功课的学生，他们更加会</tspan><tspan x="2257" dy="15.7">把握住上课的时间来完成，且周围还有同学可</tspan><tspan x="2257" dy="15.7">讨论，互相比对，形成你追我赶的良好氛围。</tspan><tspan x="2257" dy="15.7">而我也坚持阶段性地考查学生对知识的掌握情</tspan><tspan x="2257" dy="15.7">况，几次测验的情况表明，年段各个班级，基</tspan><tspan x="2257" dy="15.7">本平衡。</tspan></text></g>
<g id="s4-3"><text class="t" x="1977" y="2341.6"><tspan x="1977">三、在教学上，我虽是一名老教师，但我要学</tspan><tspan x="1977" dy="15.7">习、改进的地方仍很多。在教学过程中，我一</tspan><tspan x="1977" dy="15.7">直怀着一种互相学习的心态，当学生有疑问，</tspan><tspan x="1977" dy="15.7">而我不清楚时，我会大方地说，我课后去查一</tspan><tspan x="1977" dy="15.7">下，再来和大家交流。当学生帮我指出不足时</tspan><tspan x="1977" dy="15.7">，我会虚心地说，谢谢你们，让我又学到了一</tspan><tspan x="1977" dy="15.7">点。在这种益师益友的氛围下，学生与我有了</tspan><tspan x="1977" dy="15.7">一种良好的关系，这也让学生爱上我的课，这</tspan><tspan x="1977" dy="15.7">其实有助于学生在思想品德这门功课上的进步</tspan><tspan x="1977" dy="15.7">。而平常在参加教研活动时，积极开展互相听</tspan><tspan x="1977" dy="15.7">课评课活动，认真地听取同科其他老师的意见</tspan><tspan x="1977" dy="15.7">，积极参与其中，并在旁听他人教学过程中，</tspan><tspan x="1977" dy="15.7">借鉴其优点，从而尝试、改进自己的教学方式</tspan><tspan x="1977" dy="15.7">，学习之余，感到自己的教学能力确实有所提</tspan><tspan x="1977" dy="15.7">高。</tspan></text></g>
<g id="s4-3a"><text class="t" x="2257" y="2405.6"><tspan x="2257">完成了一学年的教学工作，看着孩子们一点一</tspan><tspan x="2257" dy="15.7">点地进步，看着自己的教学水平一点一点地在</tspan><tspan x="2257" dy="15.7">提高，我有了满足感和成就感，但我仍在努力</tspan><tspan x="2257" dy="15.7">，仍在探索更加适合我，也适合学生们的教学</tspan><tspan x="2257" dy="15.7">方式，俗话说，没有最好，只有更好，所以，</tspan><tspan x="2257" dy="15.7">我将不断进步，不断寻求突破，尽情享受教学</tspan><tspan x="2257" dy="15.7">的乐趣。</tspan></text></g>

<g id="rel"><text class="t h" x="1492" y="2853.9"><tspan x="1492">初中政治教学工作总结5篇相关文</tspan><tspan x="1492" dy="20.6">章:</tspan></text></g>
<g id="rel-items" class="t">
<text class="t" x="1796" y="2616.6">★ 2022初中政治教学工作总结5篇</text>
<text class="t" x="1796" y="2670.9">★ 初中思想政治教师教学工作总结5篇</text>
<text class="t" x="1796" y="2725.2">★ 初中政治教学工作总结10篇</text>
<text class="t" x="1796" y="2779.5">★ 初三政治教师年度教学工作总结5篇</text>
<text class="t" x="1796" y="2833.8">★ 如何开展初中政治教学工作总结与反思5篇</text>
<text class="t" x="1796" y="2888.1">★ 初中政治老师个人教学总结5篇</text>
<text class="t" x="1796" y="2942.4">★ 政治教师教学工作总结分析5篇</text>
<text class="t" x="1796" y="2996.7">★ 初中政治老师工作总结范文10篇</text>
<text class="t" x="1796" y="3051.0">★ 2021中学教师教学工作总结5篇</text>
<text class="t" x="1796" y="3105.3">★ 2021初中教学年度个人工作总结7篇</text>
</g>
</g>
</svg>
